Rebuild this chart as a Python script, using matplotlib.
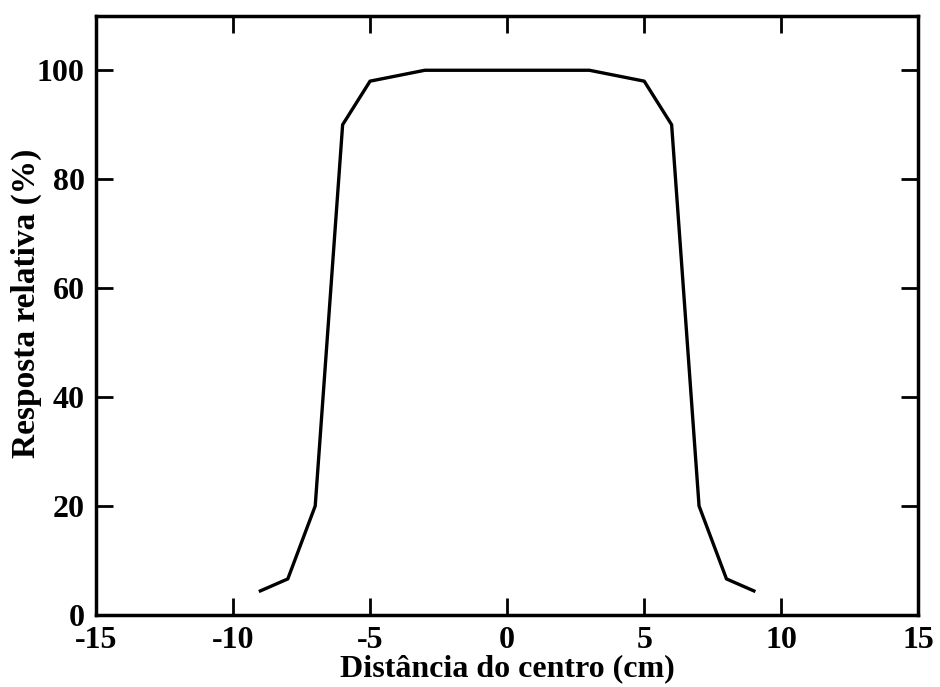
import matplotlib
matplotlib.use("Agg")
import matplotlib.pyplot as plt

x = [-9, -8, -7, -6, -5, -3, 3, 5, 6, 7, 8, 9]
y = [4.4, 6.6, 20, 90, 98, 100, 100, 98, 90, 20, 6.6, 4.4]
xticks = [-15, -10, -5, 0, 5, 10, 15]
yticks = [0, 20, 40, 60, 80, 100]

plt.rcParams['font.family'] = ['Liberation Serif', 'DejaVu Serif']
plt.rcParams['font.weight'] = 'bold'

fig = plt.figure(figsize=(9.4, 6.87), dpi=100)
ax = fig.add_axes([0.102, 0.105, 0.875, 0.872])
ax.plot(x, y, color='black', lw=2.4)
ax.set_xlim(-15, 15)
ax.set_ylim(0, 110)
ax.set_xticks(xticks)
ax.set_yticks(yticks)
ax.set_xticklabels([str(t) for t in xticks], fontsize=23, fontweight='bold')
ax.set_yticklabels([str(t) for t in yticks], fontsize=23, fontweight='bold')
ax.tick_params(direction='in', top=True, right=True, length=12, width=2)
ax.tick_params(axis='x', pad=8)
ax.tick_params(axis='y', pad=8)
for s in ax.spines.values():
    s.set_linewidth(2.5)
ax.set_xlabel('Distância do centro (cm)', fontsize=23, fontweight='bold')
ax.xaxis.set_label_coords(0.5, -0.066)
ax.set_ylabel('Resposta relativa (%)', fontsize=24, fontweight='bold')
ax.yaxis.set_label_coords(-0.066, 0.52)
fig.savefig('out.png', dpi=100)
